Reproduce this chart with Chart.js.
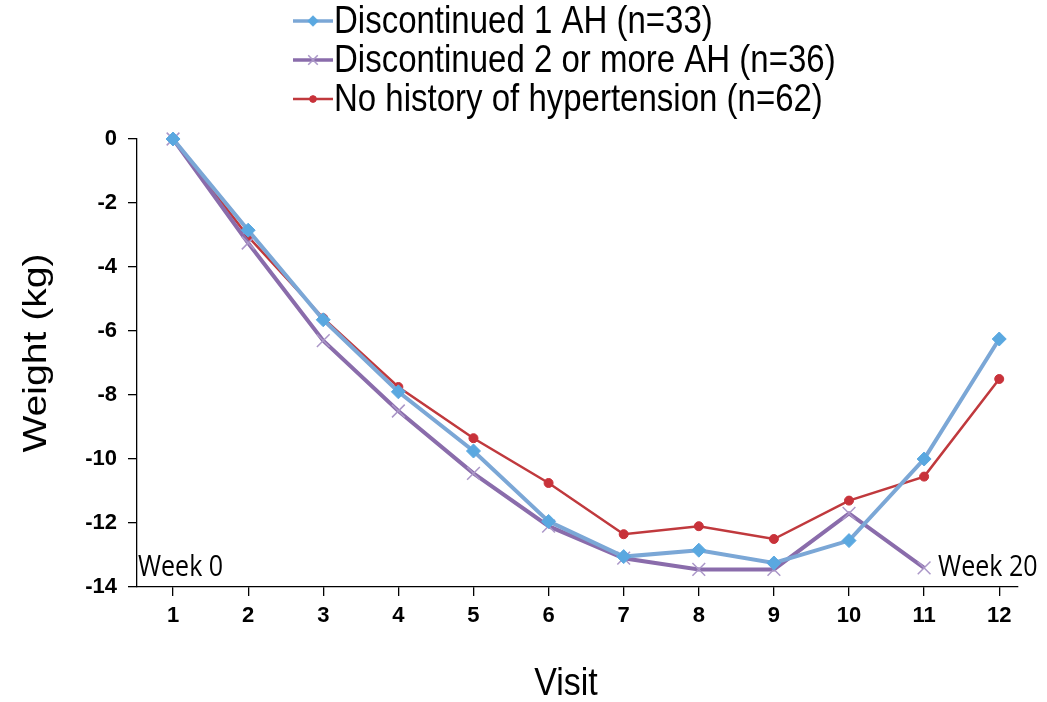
<!DOCTYPE html>
<html>
<head>
<meta charset="utf-8">
<script src="https://cdn.jsdelivr.net/npm/chart.js@4.4.1/dist/chart.umd.min.js"></script>
<style>
  html, body { margin: 0; padding: 0; background: #fff; }
  #wrap { width: 1047px; height: 702px; position: relative; }
</style>
</head>
<body>
<div id="wrap"><canvas id="weightChart"></canvas></div>
<script>
// Visits on the x axis
const visits = [1, 2, 3, 4, 5, 6, 7, 8, 9, 10, 11, 12];
// Mean weight change (kg)
const oneAH = [0, -2.85, -5.65, -7.9, -9.75, -11.95, -13.05, -12.85, -13.25, -12.55, -10.0, -6.25];
const twoAH = [0, -3.25, -6.3, -8.5, -10.45, -12.1, -13.1, -13.45, -13.45, -11.7, -13.4];
const noHist = [0, -3.05, -5.6, -7.75, -9.35, -10.75, -12.35, -12.1, -12.5, -11.3, -10.55, -7.5];
const yTicks = [0, -2, -4, -6, -8, -10, -12, -14];

const seriesNames = [
  'Discontinued 1 AH (n=33)',
  'Discontinued 2 or more AH (n=36)',
  'No history of hypertension (n=62)',
];

const toPoints = (arr) => arr.map((v, i) => ({ x: visits[i], y: v }));

// the source picture is a bit stretched vertically, so text gets the same squeeze
const STRETCH = 1.15;
const FONT = '"Liberation Sans", Arial, sans-serif';

// Legend drawn by hand: line sample with marker, one item per row
const stackedLegend = {
  id: 'stackedLegend',
  afterDraw(chart) {
    const { ctx } = chart;
    chart.data.datasets.forEach((ds, i) => {
      const y = 21 + i * 39;
      const x0 = 293, x1 = 333;
      ctx.save();
      ctx.strokeStyle = ds.borderColor;
      ctx.lineWidth = ds.borderWidth > 3 ? 3.5 : 2.5;
      ctx.beginPath();
      ctx.moveTo(x0, y);
      ctx.lineTo(x1, y);
      ctx.stroke();
      ctx.fillStyle = ds.pointBackgroundColor;
      ctx.strokeStyle = ds.pointBorderColor;
      ctx.lineWidth = ds.pointBorderWidth;
      Chart.helpers.drawPoint(ctx, {
        pointStyle: ds.pointStyle,
        radius: ds.pointRadius * 0.75,
        rotation: 0,
        borderWidth: ds.pointBorderWidth,
      }, (x0 + x1) / 2, y);
      ctx.translate(x1 + 1, y + 2);
      ctx.scale(1, STRETCH);
      ctx.font = '33px ' + FONT;
      ctx.textBaseline = 'middle';
      ctx.fillStyle = '#000';
      ctx.fillText(ds.label, 0, 0);
      ctx.restore();
    });
  },
};

// Axis titles and "Week 0" / "Week 20" notes
const notes = {
  id: 'notes',
  afterDatasetsDraw(chart) {
    const { ctx, scales, chartArea } = chart;
    const put = (text, x, y, font, align, rot) => {
      ctx.save();
      ctx.translate(x, y);
      if (rot) ctx.rotate(rot);
      if (rot) ctx.scale(STRETCH, 1); else ctx.scale(1, STRETCH);
      ctx.font = font;
      ctx.fillStyle = '#000';
      ctx.textAlign = align;
      ctx.textBaseline = 'middle';
      ctx.fillText(text, 0, 0);
      ctx.restore();
    };
    const yNote = scales.y.getPixelForValue(-13.4);
    put('Week 0', scales.x.left + 1, yNote, '25px "Open Sans", sans-serif', 'left');
    put('Week 20', scales.x.getPixelForValue(11) + 14, yNote, '25px "Open Sans", sans-serif', 'left');
    put('Visit', 566, 684, '34px ' + FONT, 'center');
    put('Weight (kg)', 37, (chartArea.top + chartArea.bottom) / 2 - 10, '34px ' + FONT, 'center', -Math.PI / 2);
  },
};

Chart.register(stackedLegend, notes);

const ctx = document.getElementById('weightChart');
new Chart(ctx, {
  type: 'line',
  data: {
    datasets: [
      {
        label: seriesNames[0],
        data: toPoints(oneAH),
        borderColor: '#7ba7d6',
        borderWidth: 4,
        pointStyle: 'rectRot',
        pointRadius: 7,
        pointBackgroundColor: '#5aa8e0',
        pointBorderColor: '#5aa8e0',
        pointBorderWidth: 1,
        tension: 0,
        clip: false,
      },
      {
        label: seriesNames[1],
        data: toPoints(twoAH),
        borderColor: '#8a6cab',
        borderWidth: 4,
        pointStyle: 'crossRot',
        pointRadius: 9,
        pointBackgroundColor: '#a891c6',
        pointBorderColor: '#ab97c8',
        pointBorderWidth: 1.5,
        tension: 0,
        clip: false,
      },
      {
        label: seriesNames[2],
        data: toPoints(noHist),
        borderColor: '#c0393d',
        borderWidth: 2.5,
        pointStyle: 'circle',
        pointRadius: 4.5,
        pointBackgroundColor: '#c8323a',
        pointBorderColor: '#c8323a',
        pointBorderWidth: 1,
        tension: 0,
        clip: false,
      },
    ],
  },
  options: {
    responsive: true,
    maintainAspectRatio: false,
    animation: false,
    layout: { padding: { top: 139, right: 29, left: 0, bottom: 0 } },
    scales: {
      x: {
        type: 'linear',
        min: 0.52,
        max: 12.25,
        afterFit: (s) => { s.height = 115; },
        afterBuildTicks: (s) => { s.ticks = visits.map((v) => ({ value: v })); },
        grid: { drawOnChartArea: false, drawTicks: true, tickLength: 9, color: '#000', lineWidth: 1.3 },
        border: { display: true, color: '#000', width: 1.3 },
        ticks: {
          color: '#000',
          padding: 7,
          font: { family: FONT, size: 22, weight: 'bold' },
        },
      },
      y: {
        min: -14,
        max: 0,
        afterFit: (s) => { s.width = 137; },
        afterBuildTicks: (s) => { s.ticks = yTicks.map((v) => ({ value: v })); },
        grid: { drawOnChartArea: false, drawTicks: true, tickLength: 9, color: '#000', lineWidth: 1.3 },
        border: { display: true, color: '#000', width: 1.3 },
        ticks: {
          color: '#000',
          padding: 11,
          font: { family: FONT, size: 22, weight: 'bold' },
        },
      },
    },
    plugins: {
      legend: { display: false },
      tooltip: { enabled: false },
    },
  },
});
</script>
</body>
</html>
